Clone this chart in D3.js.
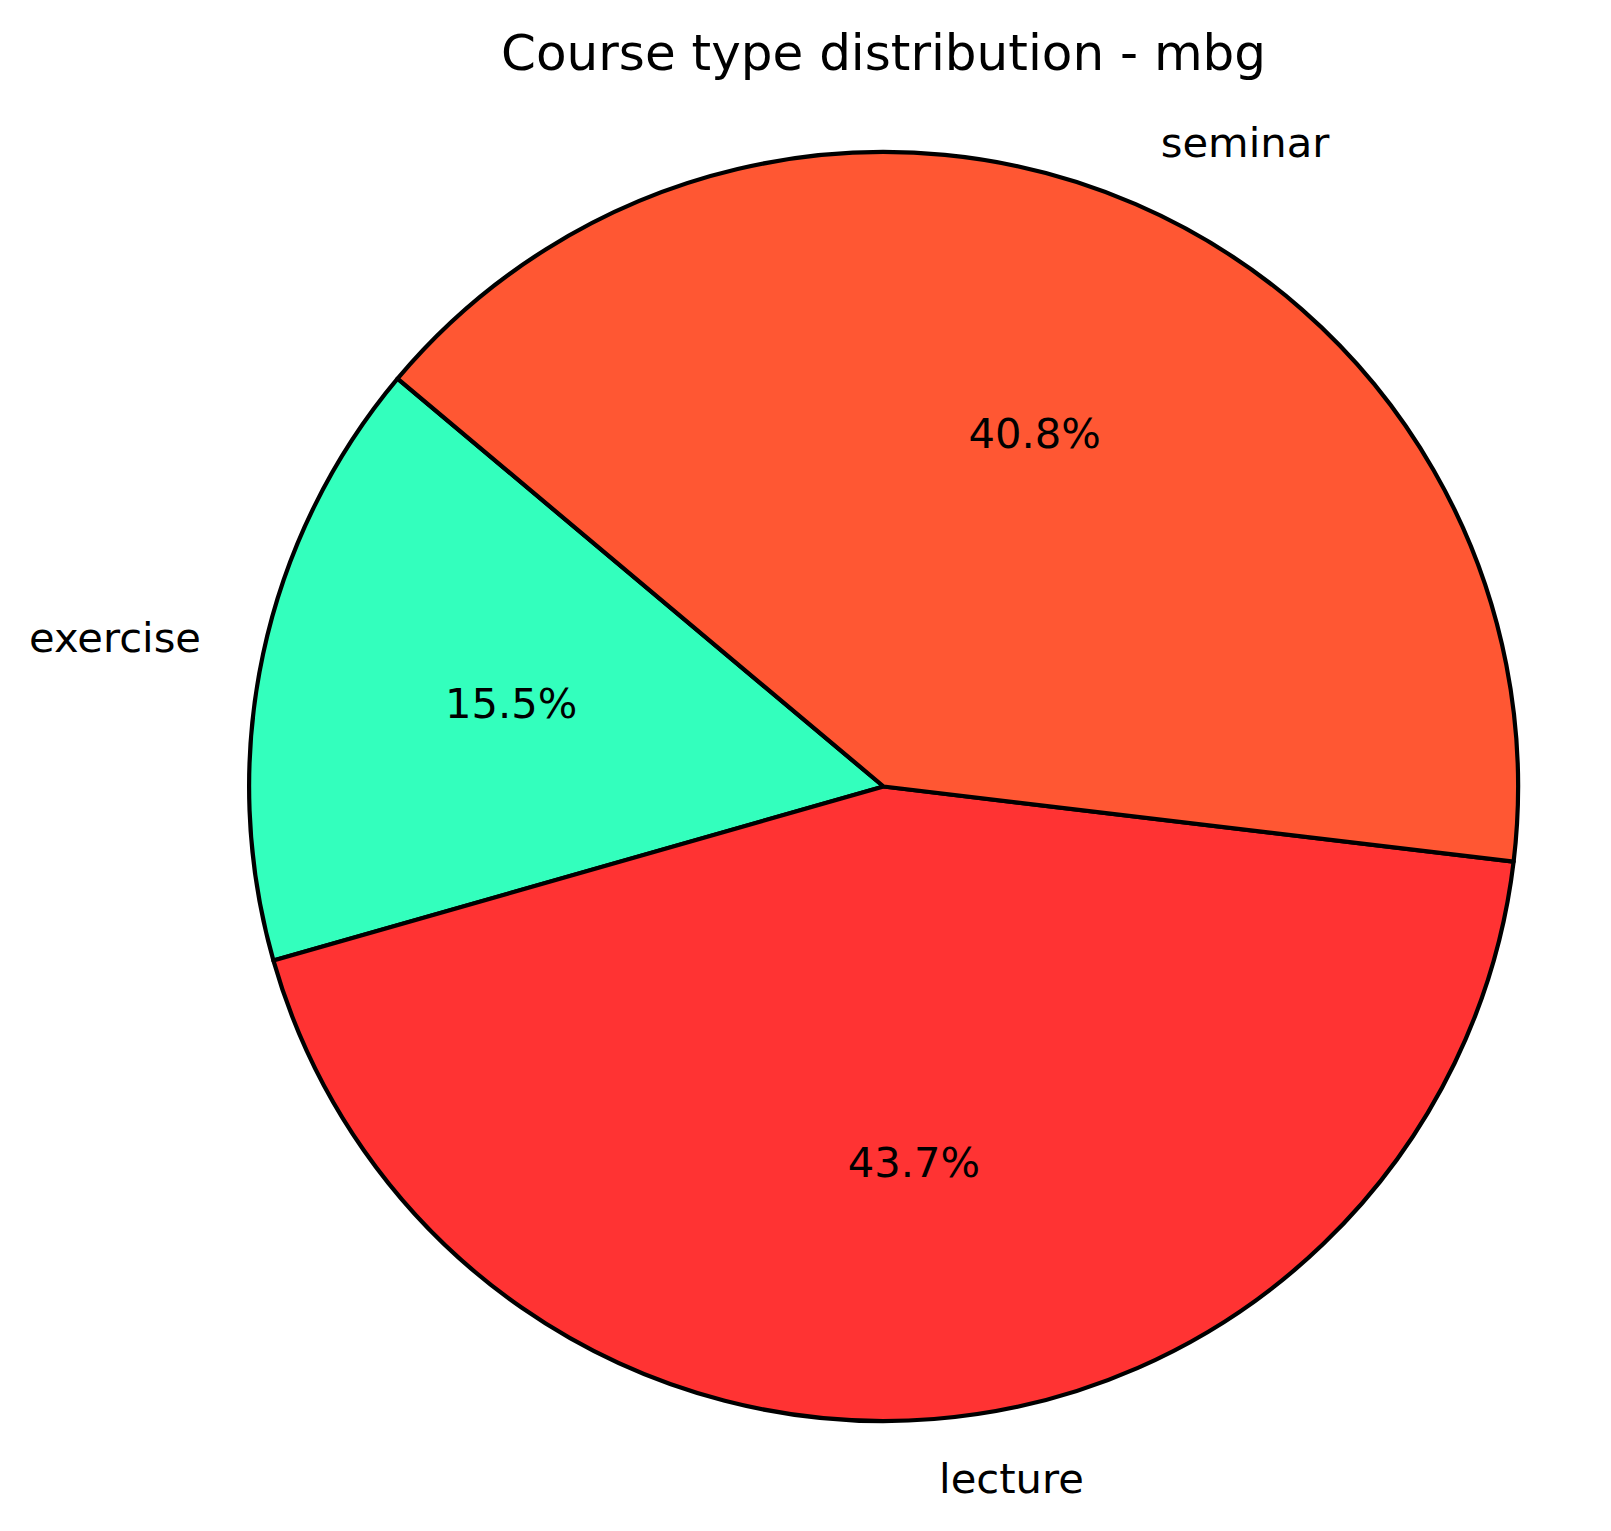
<!DOCTYPE html>
<html>
<head>
<meta charset="utf-8">
<script src="https://cdn.jsdelivr.net/npm/d3@7"></script>
<style>
  html, body { margin: 0; padding: 0; background: #ffffff; }
  svg { display: block; }
  text { font-family: "DejaVu Sans", sans-serif; fill: #000; }
</style>
</head>
<body>
<svg id="chart" width="1611" height="1531"></svg>
<script>
// Data
const categories = ["exercise", "lecture", "seminar"];
const counts = [16, 45, 42];
const colors = ["#33FFBD", "#FF3333", "#FF5733"];
const title = "Course type distribution - mbg";

const W = 1611, H = 1531;
const cx = 883.6, cy = 786.5, R = 634.5;
const startDeg = 140; // matplotlib start angle, counter-clockwise

const svg = d3.select("#chart");
svg.append("rect").attr("width", W).attr("height", H).attr("fill", "#fff");

const data = categories.map((c, i) => ({ cat: c, value: counts[i], color: colors[i] }));
const total = d3.sum(counts);

const a0 = (90 - startDeg) * Math.PI / 180;
const pie = d3.pie().sort(null).value(d => d.value)
  .startAngle(a0).endAngle(a0 - 2 * Math.PI);
const arcs = pie(data);

const arc = d3.arc().innerRadius(0).outerRadius(R);

const g = svg.append("g").attr("transform", `translate(${cx},${cy})`);

g.selectAll("path.slice").data(arcs).enter().append("path")
  .attr("class", "slice")
  .attr("d", arc)
  .attr("fill", d => d.data.color)
  .attr("stroke", "#000")
  .attr("stroke-width", 4.2)
  .attr("stroke-linejoin", "round");

const fs = 41.67;
const vOff = 0.262 * fs;

// Category labels at 1.1 R
g.selectAll("text.lbl").data(arcs).enter().append("text")
  .attr("class", "lbl")
  .each(function(d) {
    const m = (d.startAngle + d.endAngle) / 2;
    const x = Math.sin(m) * R * 1.1;
    const y = -Math.cos(m) * R * 1.1;
    d3.select(this)
      .attr("x", x)
      .attr("y", y + vOff)
      .attr("text-anchor", x > 0 ? "start" : (x < 0 ? "end" : "middle"));
  })
  .style("font-size", fs + "px")
  .text(d => d.data.cat);

// Percent labels at 0.6 R
g.selectAll("text.pct").data(arcs).enter().append("text")
  .attr("class", "pct")
  .each(function(d) {
    const m = (d.startAngle + d.endAngle) / 2;
    const x = Math.sin(m) * R * 0.6;
    const y = -Math.cos(m) * R * 0.6;
    d3.select(this).attr("x", x).attr("y", y + vOff).attr("text-anchor", "middle");
  })
  .style("font-size", fs + "px")
  .text(d => (d.data.value / total * 100).toFixed(1) + "%");

// Title
svg.append("text")
  .attr("x", cx)
  .attr("y", 70)
  .attr("text-anchor", "middle")
  .style("font-size", "50px")
  .text(title);
</script>
</body>
</html>
